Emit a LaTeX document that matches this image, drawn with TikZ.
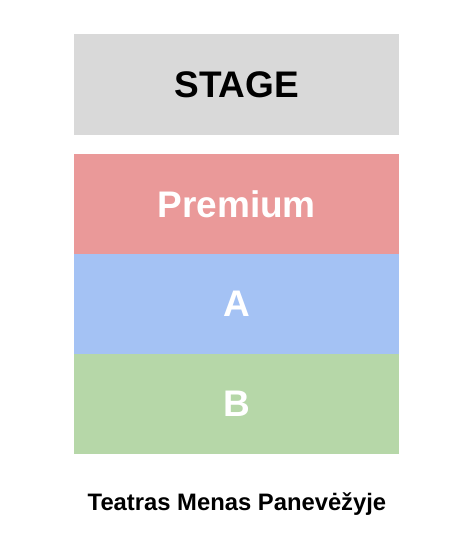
\documentclass[tikz,border=0pt]{standalone}
\usepackage{fontspec}
\setmainfont{Liberation Sans}
\definecolor{stagegray}{HTML}{D9D9D9}
\definecolor{premred}{HTML}{EA9999}
\definecolor{ablue}{HTML}{A4C2F4}
\definecolor{bgreen}{HTML}{B6D7A8}
\begin{document}
\begin{tikzpicture}[x=1pt,y=-1pt,
  zone/.style={draw=none,inner sep=0pt,minimum width=325pt,minimum height=100pt,anchor=north west,font=\fontsize{37}{40}\selectfont\bfseries},
  lbl/.style={font=\fontsize{23.8}{26}\selectfont\bfseries}]
\useasboundingbox[fill=white] (0,0) rectangle (474,548);
\node[zone,fill=stagegray,text=black,minimum height=101pt] (stage) at (74,34) {STAGE};
\node[zone,fill=premred,text=white] (premium) at (74,154) {Premium};
\node[zone,fill=ablue,text=white] (a) at (74,254) {A};
\node[zone,fill=bgreen,text=white] (b) at (74,354) {B};
\node[lbl] (title) at (237,504) {Teatras Menas Panevėžyje};
\end{tikzpicture}
\end{document}
